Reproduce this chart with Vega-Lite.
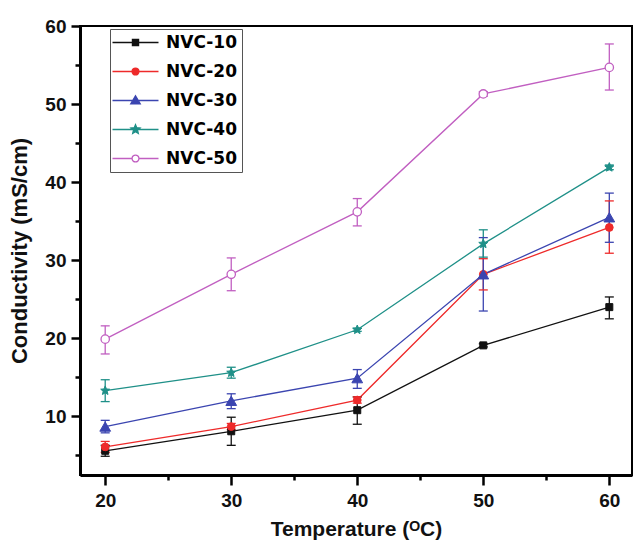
{
  "$schema": "https://vega.github.io/schema/vega-lite/v6.json",
  "autosize": {"type": "none"},
  "padding": {"left": 80, "top": 26, "right": 1, "bottom": 67},
  "width": 552,
  "height": 449,
  "background": "white",
  "view": {"stroke": "#000000", "strokeWidth": 2},
  "config": {
    "view": {"stroke": "#000000", "strokeWidth": 2},
    "axis": {
      "domainColor": "#000000", "domainWidth": 3,
      "tickColor": "#000000", "tickWidth": 2.5,
      "labelFont": "Liberation Sans", "labelFontWeight": "bold", "labelFontSize": 19, "labelColor": "#111111",
      "titleFont": "Liberation Sans", "titleFontWeight": "bold", "titleFontSize": 21, "titleColor": "#111111",
      "grid": false
    },
    "legend": {
      "orient": "none", "legendX": 30, "legendY": 3,
      "labelFont": "DejaVu Sans", "labelFontSize": 17, "labelFontWeight": "bold", "labelColor": "#000000",
      "labelLimit": 0,
      "symbolSize": 235, "symbolStrokeWidth": 1.3,
      "padding": 5, "rowPadding": 11, "symbolOffset": 12, "labelOffset": 22,
      "strokeColor": "#555555", "fillColor": "#ffffff"
    }
  },
  "data": {
    "values": [
      {"series": "NVC-10", "temp": 20, "value": 5.6, "lo": 4.9, "hi": 6.3},
      {"series": "NVC-10", "temp": 30, "value": 8.1, "lo": 6.3, "hi": 9.9},
      {"series": "NVC-10", "temp": 40, "value": 10.8, "lo": 9.0, "hi": 12.5},
      {"series": "NVC-10", "temp": 50, "value": 19.1, "lo": 18.9, "hi": 19.3},
      {"series": "NVC-10", "temp": 60, "value": 24.0, "lo": 22.5, "hi": 25.3},
      {"series": "NVC-20", "temp": 20, "value": 6.1, "lo": 5.4, "hi": 6.8},
      {"series": "NVC-20", "temp": 30, "value": 8.7, "lo": 8.3, "hi": 9.1},
      {"series": "NVC-20", "temp": 40, "value": 12.1, "lo": 11.7, "hi": 12.5},
      {"series": "NVC-20", "temp": 50, "value": 28.2, "lo": 26.2, "hi": 30.2},
      {"series": "NVC-20", "temp": 60, "value": 34.2, "lo": 30.9, "hi": 37.6},
      {"series": "NVC-30", "temp": 20, "value": 8.7, "lo": 7.9, "hi": 9.5},
      {"series": "NVC-30", "temp": 30, "value": 12.0, "lo": 11.0, "hi": 12.9},
      {"series": "NVC-30", "temp": 40, "value": 14.9, "lo": 13.6, "hi": 16.0},
      {"series": "NVC-30", "temp": 50, "value": 28.2, "lo": 23.5, "hi": 32.9},
      {"series": "NVC-30", "temp": 60, "value": 35.5, "lo": 32.3, "hi": 38.6},
      {"series": "NVC-40", "temp": 20, "value": 13.3, "lo": 11.9, "hi": 14.7},
      {"series": "NVC-40", "temp": 30, "value": 15.6, "lo": 14.9, "hi": 16.3},
      {"series": "NVC-40", "temp": 40, "value": 21.1, "lo": 20.9, "hi": 21.3},
      {"series": "NVC-40", "temp": 50, "value": 32.1, "lo": 30.4, "hi": 33.9},
      {"series": "NVC-40", "temp": 60, "value": 41.9, "lo": 41.6, "hi": 42.2},
      {"series": "NVC-50", "temp": 20, "value": 19.9, "lo": 18.0, "hi": 21.6},
      {"series": "NVC-50", "temp": 30, "value": 28.2, "lo": 26.1, "hi": 30.3},
      {"series": "NVC-50", "temp": 40, "value": 36.2, "lo": 34.4, "hi": 37.9},
      {"series": "NVC-50", "temp": 50, "value": 51.3, "lo": 51.0, "hi": 51.6},
      {"series": "NVC-50", "temp": 60, "value": 54.7, "lo": 51.8, "hi": 57.7}
    ]
  },
  "encoding": {
    "x": {
      "field": "temp", "type": "quantitative",
      "scale": {"domain": [18, 61.8], "nice": false, "zero": false},
      "axis": {
        "title": "Temperature (ᴼC)",
        "values": [20, 25, 30, 35, 40, 45, 50, 55, 60],
        "labelExpr": "datum.value % 10 === 0 ? datum.label : ''",
        "tickSize": {"condition": {"test": "datum.value % 10 === 0", "value": 10}, "value": 5},
        "labelPadding": 6, "titlePadding": 8
      }
    },
    "y": {
      "field": "value", "type": "quantitative",
      "scale": {"domain": [2.5, 60], "nice": false, "zero": false},
      "axis": {
        "title": "Conductivity (mS/cm)",
        "titleFontSize": 22,
        "values": [5, 10, 15, 20, 25, 30, 35, 40, 45, 50, 55, 60],
        "labelExpr": "datum.value % 10 === 0 ? datum.label : ''",
        "tickSize": {"condition": {"test": "datum.value % 10 === 0", "value": 9}, "value": 5},
        "labelPadding": 5, "titlePadding": 13
      }
    }
  },
  "layer": [
    {
      "mark": {"type": "line", "strokeWidth": 1.3},
      "encoding": {
        "stroke": {"field": "series", "type": "nominal", "legend": {"title": null},
          "scale": {"domain": ["NVC-10", "NVC-20", "NVC-30", "NVC-40", "NVC-50"],
                    "range": ["#111111", "#ee2a2a", "#3b45b0", "#1f9088", "#c15fc1"]}}
      }
    },
    {
      "mark": {"type": "rule", "strokeWidth": 1.3},
      "encoding": {
        "y": {"field": "lo", "type": "quantitative"},
        "y2": {"field": "hi"},
        "stroke": {"field": "series", "type": "nominal", "legend": {"title": null}}
      }
    },
    {
      "mark": {"type": "rule", "strokeWidth": 1.3, "xOffset": -4.5, "x2Offset": 4.5},
      "encoding": {
        "x2": {"field": "temp"},
        "y": {"field": "lo", "type": "quantitative"},
        "stroke": {"field": "series", "type": "nominal", "legend": {"title": null}}
      }
    },
    {
      "mark": {"type": "rule", "strokeWidth": 1.3, "xOffset": -4.5, "x2Offset": 4.5},
      "encoding": {
        "x2": {"field": "temp"},
        "y": {"field": "hi", "type": "quantitative"},
        "stroke": {"field": "series", "type": "nominal", "legend": {"title": null}}
      }
    },
    {
      "transform": [{"filter": "datum.series === 'NVC-10'"}],
      "mark": {"type": "point", "shape": "square", "size": 49, "strokeWidth": 1, "opacity": 1},
      "encoding": {
        "stroke": {"field": "series", "type": "nominal", "legend": {"title": null}},
        "fill": {"field": "series", "type": "nominal", "legend": {"title": null}}
      }
    },
    {
      "transform": [{"filter": "datum.series === 'NVC-20'"}],
      "mark": {"type": "point", "shape": "circle", "size": 60, "strokeWidth": 1, "opacity": 1},
      "encoding": {
        "stroke": {"field": "series", "type": "nominal", "legend": {"title": null}},
        "fill": {"field": "series", "type": "nominal", "legend": {"title": null}}
      }
    },
    {
      "transform": [{"filter": "datum.series === 'NVC-30'"}],
      "mark": {"type": "point", "shape": "triangle-up", "size": 115, "strokeWidth": 1, "opacity": 1},
      "encoding": {
        "stroke": {"field": "series", "type": "nominal", "legend": {"title": null}},
        "fill": {"field": "series", "type": "nominal", "legend": {"title": null}}
      }
    },
    {
      "transform": [{"filter": "datum.series === 'NVC-40'"}],
      "mark": {"type": "point", "shape": "M0,-1L0.2645,-0.364L0.951,-0.309L0.428,0.139L0.588,0.809L0,0.45L-0.588,0.809L-0.428,0.139L-0.951,-0.309L-0.2645,-0.364Z", "size": 90, "strokeWidth": 1, "opacity": 1},
      "encoding": {
        "stroke": {"field": "series", "type": "nominal", "legend": {"title": null}},
        "fill": {"field": "series", "type": "nominal", "legend": {"title": null}}
      }
    },
    {
      "transform": [{"filter": "datum.series === 'NVC-50'"}],
      "mark": {"type": "point", "shape": "circle", "size": 70, "strokeWidth": 1.3, "opacity": 1},
      "encoding": {
        "stroke": {"field": "series", "type": "nominal", "legend": {"title": null}},
        "fill": {"field": "series", "type": "nominal", "legend": {"title": null}}
      }
    },
    {
      "transform": [{"filter": "datum.series === 'none'"}],
      "mark": {"type": "point", "opacity": 1, "strokeWidth": 1.3},
      "encoding": {
        "shape": {"field": "series", "type": "nominal",
          "legend": {"title": null, "orient": "none", "legendX": 30, "legendY": 3},
          "scale": {"domain": ["NVC-10", "NVC-20", "NVC-30", "NVC-40", "NVC-50"],
                    "range": [
                      "M-3,0H3M-0.4,-0.4H0.4V0.4H-0.4Z",
                      "M-3,0H3M0.45,0A0.45,0.45 0 1,1 -0.45,0A0.45,0.45 0 1,1 0.45,0Z",
                      "M-3,0H3M0,-0.62L0.62,0.45L-0.62,0.45Z",
                      "M-3,0H3M0,-0.62L0.165,-0.227L0.59,-0.19L0.266,0.087L0.365,0.5L0,0.28L-0.365,0.5L-0.266,0.087L-0.59,-0.19L-0.165,-0.227Z",
                      "M-3,0H-0.45M0.45,0H3M0.45,0A0.45,0.45 0 1,1 -0.45,0A0.45,0.45 0 1,1 0.45,0Z"
                    ]}},
        "stroke": {"field": "series", "type": "nominal",
          "legend": {"title": null, "orient": "none", "legendX": 30, "legendY": 3}},
        "fill": {"field": "series", "type": "nominal",
          "legend": {"title": null, "orient": "none", "legendX": 30, "legendY": 3},
          "scale": {"domain": ["NVC-10", "NVC-20", "NVC-30", "NVC-40", "NVC-50"],
                    "range": ["#111111", "#ee2a2a", "#3b45b0", "#1f9088", "#ffffff"]}}
      }
    }
  ]
}
